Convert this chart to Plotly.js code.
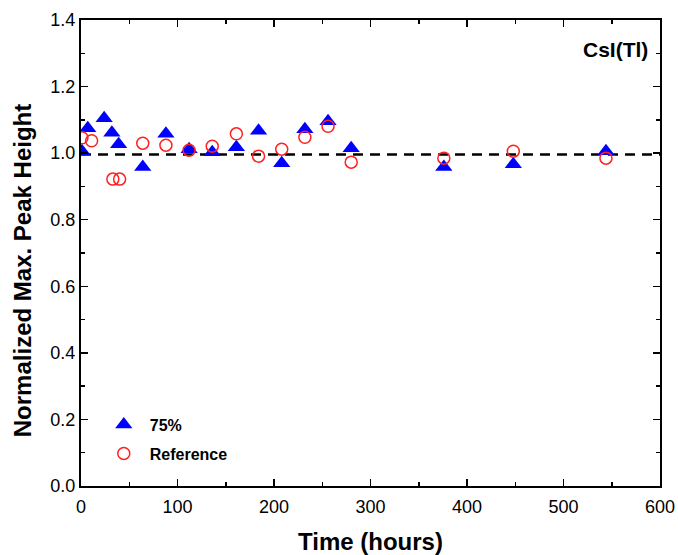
<!DOCTYPE html>
<html>
<head>
<meta charset="utf-8">
<script src="https://cdn.plot.ly/plotly-3.0.1.min.js"></script>
<style>html,body{margin:0;padding:0;background:#fff;}#chart{width:678px;height:555px;}</style>
</head>
<body>
<div id="chart"></div>
<script>
// 75% series (blue filled triangles)
const timeA = [1, 7, 24, 32, 39, 64, 88, 112, 136, 161, 184, 208, 232, 256, 280, 376, 448, 544];
const peakA = [1.006, 1.075, 1.105, 1.061, 1.027, 0.958, 1.058, 1.012, 1.003, 1.018, 1.067, 0.970, 1.072, 1.096, 1.015, 0.958, 0.967, 1.006];
// Reference series (red open circles)
const timeRef = [1, 11, 33, 40, 64, 88, 112, 136, 161, 184, 208, 232, 256, 280, 376, 448, 544];
const peakRef = [1.046, 1.037, 0.922, 0.922, 1.030, 1.024, 1.009, 1.021, 1.058, 0.991, 1.012, 1.048, 1.081, 0.973, 0.985, 1.006, 0.985];
const seriesNames = ['75%', 'Reference'];
const baseline = 0.996;
const labelText = 'CsI(Tl)';
const yTitleText = 'Normalized Max. Peak Height';
const xTicks = [0, 100, 200, 300, 400, 500, 600];
const yTicks = [0.0, 0.2, 0.4, 0.6, 0.8, 1.0, 1.2, 1.4];

const font = 'Liberation Sans, Arial, sans-serif';

const traces = [
  {
    x: timeA, y: peakA, type: 'scatter', mode: 'markers', name: seriesNames[0],
    legendgroup: 'a',
    marker: {symbol: 'triangle-up', size: 15, color: '#0000ff', line: {width: 0}}
  },
  {
    x: timeRef, y: peakRef, type: 'scatter', mode: 'markers', name: seriesNames[1],
    legendgroup: 'b',
    marker: {symbol: 'circle-open', size: 12, color: '#ff2020', line: {width: 1.5, color: '#ff2020'}}
  }
];

const axisCommon = {
  showgrid: false, zeroline: false, showline: true, linecolor: '#000', linewidth: 2,
  mirror: 'allticks', ticks: 'inside', ticklen: 7, tickwidth: 1.5, tickcolor: '#000',
  tickfont: {family: font, size: 18, color: '#000'}
};

const layout = {
  width: 678, height: 555,
  margin: {l: 81, r: 18, t: 20, b: 69},
  paper_bgcolor: '#fff', plot_bgcolor: '#fff',
  showlegend: true,
  legend: {
    x: 0.029, y: 0.168, xanchor: 'left', yanchor: 'top', itemwidth: 42,
    bgcolor: 'rgba(0,0,0,0)', borderwidth: 0, tracegroupgap: 5,
    font: {family: font, size: 16, color: '#000', weight: 'bold'}
  },
  xaxis: Object.assign({}, axisCommon, {
    range: [0, 600], tickvals: xTicks, ticktext: xTicks.map(String),
    ticklabelstandoff: 3,
    minor: {dtick: 50, tick0: 0, ticks: 'inside', ticklen: 4, tickwidth: 1.5, tickcolor: '#000'},
    title: {text: 'Time (hours)', font: {family: font, size: 24, color: '#000', weight: 'bold'}, standoff: 20}
  }),
  yaxis: Object.assign({}, axisCommon, {
    range: [0, 1.4], tickvals: yTicks, ticktext: yTicks.map(v => v.toFixed(1)),
    minor: {dtick: 0.1, tick0: 0, ticks: 'inside', ticklen: 4, tickwidth: 1.5, tickcolor: '#000'}
  }),
  shapes: [{
    type: 'line', xref: 'paper', yref: 'y', x0: 0, x1: 1, y0: baseline, y1: baseline,
    layer: 'below', line: {color: '#000', width: 2.5, dash: '10px,7px'}
  }],
  annotations: [
    {
      text: labelText, xref: 'paper', yref: 'paper', x: 0.983, y: 0.936,
      xanchor: 'right', yanchor: 'middle', showarrow: false,
      font: {family: font, size: 21, color: '#000', weight: 'bold'}
    },
    {
      text: yTitleText, xref: 'paper', yref: 'paper', x: -0.101, y: 0.462,
      xanchor: 'center', yanchor: 'middle', textangle: -90, showarrow: false,
      font: {family: font, size: 24, color: '#000', weight: 'bold'}
    }
  ]
};

Plotly.newPlot('chart', traces, layout, {displayModeBar: false, staticPlot: true});
</script>
</body>
</html>
